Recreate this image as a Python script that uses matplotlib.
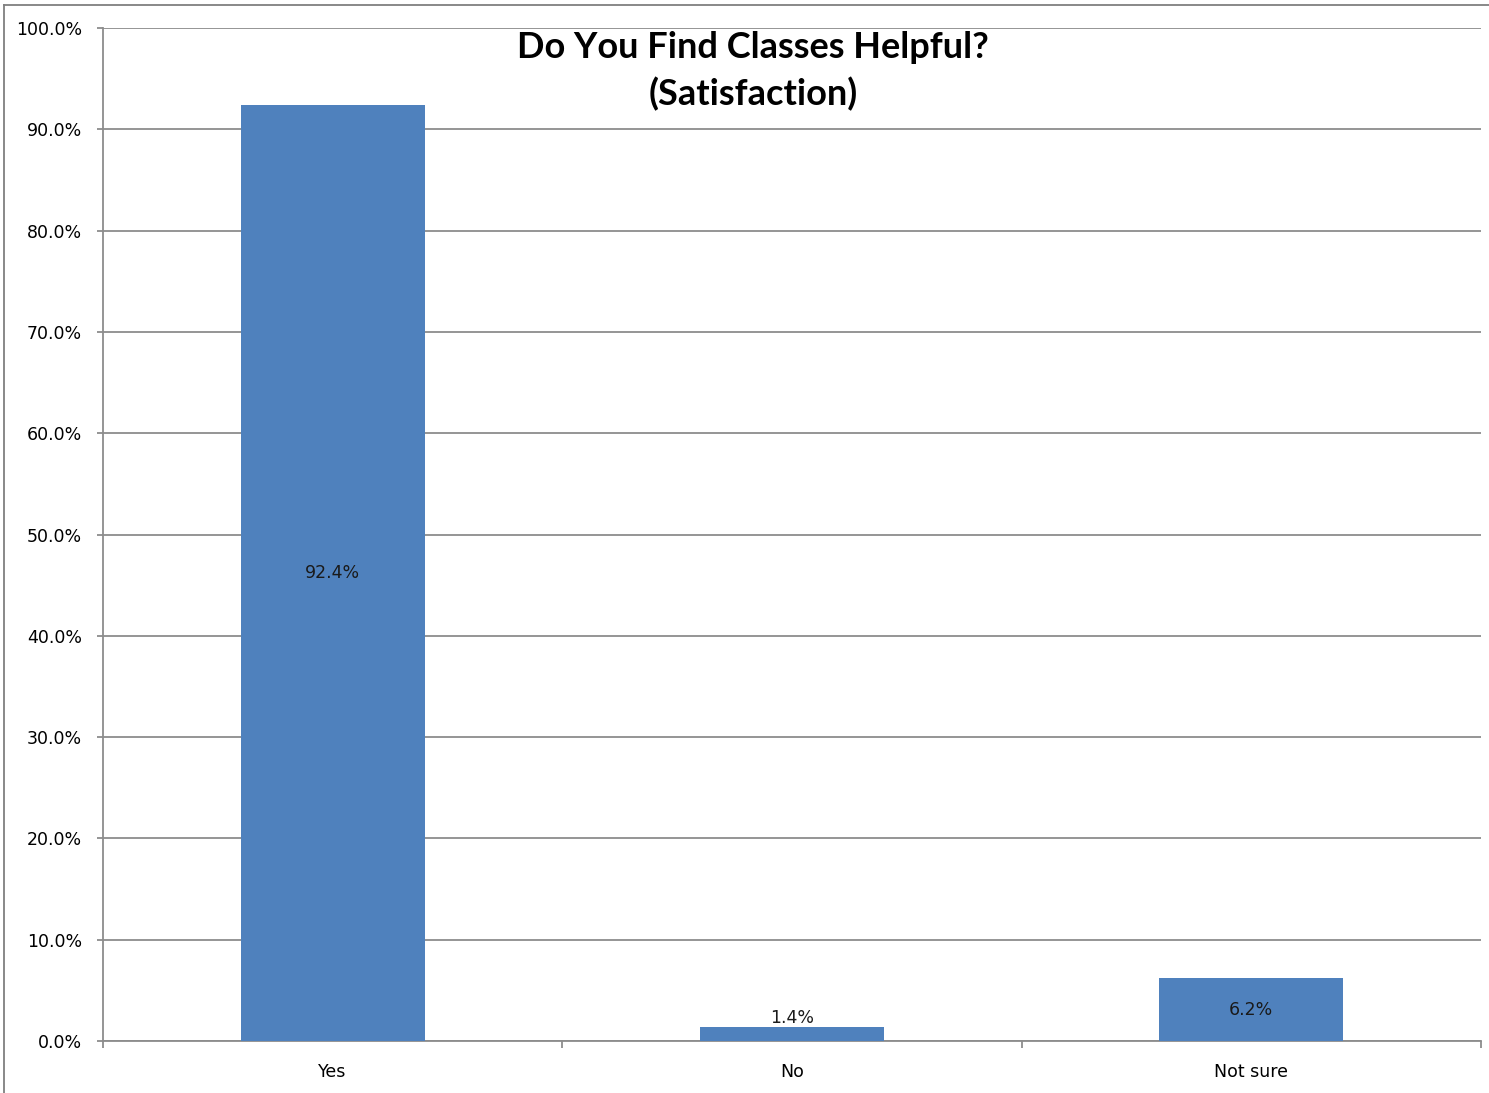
import matplotlib.pyplot as plt
from matplotlib.ticker import MultipleLocator, FixedLocator, PercentFormatter
from matplotlib.lines import Line2D

categories = ['Yes', 'No', 'Not sure']
percent = [92.4, 1.4, 6.2]
label_text = ['92.4%', '1.4%', '6.2%']

BAR_COLOR = '#4F81BD'
GRID_COLOR = '#8C8C8C'

fig = plt.figure(figsize=(14.89, 10.93), dpi=100)
ax = fig.add_axes([103 / 1489, 52 / 1093, 1378 / 1489, 1013 / 1093])

x = list(range(len(categories)))
ax.bar(x, percent, width=0.4, color=BAR_COLOR, zorder=3)

# data labels: centered in the bar, nudged above when the bar is too thin
for xi, v, t in zip(x, percent, label_text):
    y = v + 0.9 if v < 3 else v / 2
    ax.text(xi, y, t, ha='center', va='center', fontsize=12.5, color='#1a1a1a', zorder=4)

ax.set_xlim(-0.5, len(categories) - 0.5)
ax.set_ylim(0, 100)
ax.yaxis.set_major_locator(MultipleLocator(10))
ax.yaxis.set_major_formatter(PercentFormatter(decimals=1))
ax.yaxis.grid(True, color=GRID_COLOR, linewidth=1.3, zorder=0)
ax.set_axisbelow(True)

# category labels centered, tick marks on the category boundaries
ax.set_xticks(x)
ax.set_xticklabels(categories, fontsize=12.5)
ax.tick_params(axis='x', which='major', length=0, pad=16)
ax.xaxis.set_minor_locator(FixedLocator([-0.5, 0.5, 1.5, 2.5]))
ax.tick_params(axis='x', which='minor', length=5, color=GRID_COLOR, width=1.3)
ax.tick_params(axis='y', length=4.5, color=GRID_COLOR, width=1.3, labelsize=12.5, pad=10.5)

for side in ['top', 'right']:
    ax.spines[side].set_visible(False)
for side in ['left', 'bottom']:
    ax.spines[side].set_color(GRID_COLOR)
    ax.spines[side].set_linewidth(1.3)

fig.text(753 / 1489, 1 - 71 / 1093, 'Do You Find Classes Helpful?\n(Satisfaction)',
         ha='center', va='center', fontsize=26, fontweight='bold', family='Lato',
         linespacing=1.45)

# chart area border (left and top edges visible)
fig.add_artist(Line2D([4 / 1489, 4 / 1489], [0, 1 - 5 / 1093], transform=fig.transFigure,
                      color='#7f7f7f', linewidth=1.3))
fig.add_artist(Line2D([4 / 1489, 1], [1 - 5 / 1093, 1 - 5 / 1093], transform=fig.transFigure,
                      color='#7f7f7f', linewidth=1.3))

fig.savefig('out.png', dpi=100)
